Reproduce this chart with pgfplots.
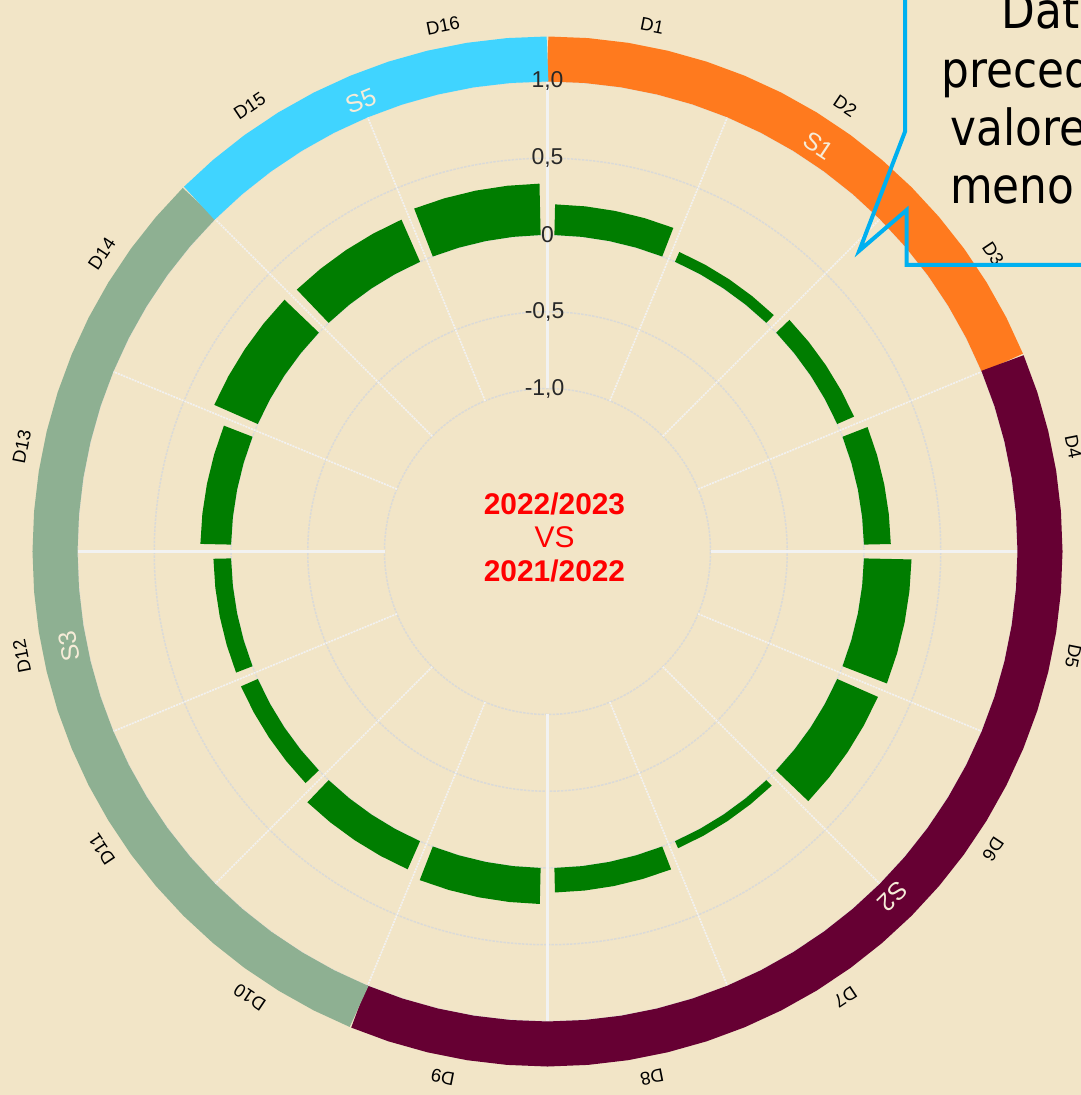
\documentclass[border=0pt]{standalone}
\usepackage{pgfplots}
\pgfplotsset{compat=1.18}
\usepgfplotslibrary{polar}
\usepackage{fontspec}
\setmainfont{Liberation Sans}
\newfontfamily\callfont[FakeStretch=0.88]{DejaVu Sans}
\definecolor{bg}{RGB}{242,229,199}
\definecolor{barg}{RGB}{0,125,0}
\definecolor{sone}{RGB}{255,122,30}
\definecolor{stwo}{RGB}{102,0,51}
\definecolor{sthree}{RGB}{142,176,146}
\definecolor{sfive}{RGB}{64,212,255}
\definecolor{callc}{RGB}{0,176,240}
\definecolor{gridc}{RGB}{218,218,216}
\definecolor{lab}{RGB}{40,40,40}
\definecolor{slab}{RGB}{246,236,216}
% bar: five angles, outer radius (= 2.062 + value)
\newcommand\polbar[6]{\addplot[draw=none,fill=barg,data cs=polar] coordinates {(#1,2.062) (#2,2.062) (#3,2.062) (#4,2.062) (#5,2.062) (#5,#6) (#4,#6) (#3,#6) (#2,#6) (#1,#6)};}
\begin{document}
\begin{tikzpicture}
\fill[bg] (0,0) rectangle (1081bp,1095bp);
\begin{scope}[shift={(547.5bp,543.5bp)}]
\foreach \r in {163bp,239.75bp,316.5bp,393.25bp,470bp}
  \draw[gridc,line width=1.5bp,dash pattern=on 2.5bp off 1.2bp] (0,0) circle[radius=\r];
\foreach \a in {22.5,45,67.5,112.5,135,157.5,202.5,225,247.5,292.5,315,337.5}
  \draw[white!90!gray,line width=1.6bp,dash pattern=on 2bp off 1bp] (\a:163bp) -- (\a:470bp);
\foreach \a in {0,90,180,270}
  \draw[white!90!gray,line width=2.2bp] (\a:163bp) -- (\a:470bp);
\end{scope}
\begin{axis}[at={(0,0)},anchor=south west,x=153.5bp,y=153.5bp,
  xmin=-3.5668,xmax=3.4756,ymin=-3.5407,ymax=3.5928,hide axis,clip=false]
% ring segments (S1: D1-D3, S2: D4-D9, S3: D10-D14, S5: D15-D16)
\addplot[sone,line width=45bp,data cs=polar] coordinates {(90,3.2085) (85.5,3.2085) (81,3.2085) (76.5,3.2085) (72,3.2085) (67.5,3.2085) (63,3.2085) (58.5,3.2085) (54,3.2085) (49.5,3.2085) (45,3.2085) (40.5,3.2085) (36,3.2085) (31.5,3.2085) (27,3.2085) (22.5,3.2085)};
\addplot[stwo,line width=45bp,data cs=polar] coordinates {(22.5,3.2085) (18,3.2085) (13.5,3.2085) (9,3.2085) (4.5,3.2085) (0,3.2085) (-4.5,3.2085) (-9,3.2085) (-13.5,3.2085) (-18,3.2085) (-22.5,3.2085) (-27,3.2085) (-31.5,3.2085) (-36,3.2085) (-40.5,3.2085) (-45,3.2085) (-49.5,3.2085) (-54,3.2085) (-58.5,3.2085) (-63,3.2085) (-67.5,3.2085) (-72,3.2085) (-76.5,3.2085) (-81,3.2085) (-85.5,3.2085) (-90,3.2085) (-94.5,3.2085) (-99,3.2085) (-103.5,3.2085) (-108,3.2085) (-112.5,3.2085)};
\addplot[sthree,line width=45bp,data cs=polar] coordinates {(-112.5,3.2085) (-117,3.2085) (-121.5,3.2085) (-126,3.2085) (-130.5,3.2085) (-135,3.2085) (-139.5,3.2085) (-144,3.2085) (-148.5,3.2085) (-153,3.2085) (-157.5,3.2085) (-162,3.2085) (-166.5,3.2085) (-171,3.2085) (-175.5,3.2085) (-180,3.2085) (-184.5,3.2085) (-189,3.2085) (-193.5,3.2085) (-198,3.2085) (-202.5,3.2085) (-207,3.2085) (-211.5,3.2085) (-216,3.2085) (-220.5,3.2085) (-225,3.2085)};
\addplot[sfive,line width=45bp,data cs=polar] coordinates {(135,3.2085) (130.5,3.2085) (126,3.2085) (121.5,3.2085) (117,3.2085) (112.5,3.2085) (108,3.2085) (103.5,3.2085) (99,3.2085) (94.5,3.2085) (90,3.2085)};
% bars: values D1..D16 = 0.20 0.07 0.12 0.175 0.31 0.29 0.05 0.16 0.235 0.20 0.12 0.115 0.20 0.31 0.30 0.335
\polbar{88.75}{83.75}{78.75}{73.75}{68.75}{2.262}
\polbar{66.25}{61.25}{56.25}{51.25}{46.25}{2.132}
\polbar{43.75}{38.75}{33.75}{28.75}{23.75}{2.182}
\polbar{21.25}{16.25}{11.25}{6.25}{1.25}{2.237}
\polbar{-1.25}{-6.25}{-11.25}{-16.25}{-21.25}{2.372}
\polbar{-23.75}{-28.75}{-33.75}{-38.75}{-43.75}{2.352}
\polbar{-46.25}{-51.25}{-56.25}{-61.25}{-66.25}{2.112}
\polbar{-68.75}{-73.75}{-78.75}{-83.75}{-88.75}{2.222}
\polbar{-91.25}{-96.25}{-101.25}{-106.25}{-111.25}{2.297}
\polbar{-113.75}{-118.75}{-123.75}{-128.75}{-133.75}{2.262}
\polbar{-136.25}{-141.25}{-146.25}{-151.25}{-156.25}{2.182}
\polbar{-158.75}{-163.75}{-168.75}{-173.75}{-178.75}{2.177}
\polbar{178.75}{173.75}{168.75}{163.75}{158.75}{2.262}
\polbar{156.25}{151.25}{146.25}{141.25}{136.25}{2.372}
\polbar{133.75}{128.75}{123.75}{118.75}{113.75}{2.362}
\polbar{111.25}{106.25}{101.25}{96.25}{91.25}{2.397}
\end{axis}
\begin{scope}[shift={(547.5bp,543.5bp)}]
% radial tick labels
\begin{scope}[every node/.style={lab,font=\fontsize{23}{23}\selectfont,inner sep=0pt}]
\node at (0,471bp) {1,0};
\node at (0,394bp) {0,5};
\node at (0,317bp) {0};
\node at (-3bp,240bp) {-0,5};
\node at (-3bp,163bp) {-1,0};
\end{scope}
% category labels
\begin{scope}[every node/.style={black,font=\fontsize{18.5}{18.5}\selectfont,inner sep=0pt}]
\node[rotate=-11.25] at (78.75:536bp) {D1};
\node[rotate=-33.75] at (56.25:536bp) {D2};
\node[rotate=-56.25] at (33.75:536bp) {D3};
\node[rotate=-78.75] at (11.25:536bp) {D4};
\node[rotate=-101.25] at (-11.25:536bp) {D5};
\node[rotate=-123.75] at (-33.75:536bp) {D6};
\node[rotate=-146.25] at (-56.25:536bp) {D7};
\node[rotate=-168.75] at (-78.75:536bp) {D8};
\node[rotate=-191.25] at (-101.25:536bp) {D9};
\node[rotate=-213.75] at (-123.75:536bp) {D10};
\node[rotate=-236.25] at (-146.25:536bp) {D11};
\node[rotate=-258.75] at (-168.75:536bp) {D12};
\node[rotate=78.75] at (168.75:536bp) {D13};
\node[rotate=56.25] at (146.25:536bp) {D14};
\node[rotate=33.75] at (123.75:536bp) {D15};
\node[rotate=11.25] at (101.25:536bp) {D16};
\end{scope}
% group labels
\begin{scope}[every node/.style={slab,font=\fontsize{25}{25}\selectfont,inner sep=0pt}]
\node[rotate=-33.75] at (56.25:488bp) {S1};
\node[rotate=-135] at (-45:488bp) {S2};
\node[rotate=101.25] at (191.25:488bp) {S3};
\node[rotate=22.5] at (112.5:488bp) {S5};
\end{scope}
% centre text
\node[red,anchor=base,font=\fontsize{30}{30}\selectfont\bfseries,inner sep=0pt] at (7bp,37bp) {2022/2023};
\node[red,anchor=base,font=\fontsize{30}{30}\selectfont,inner sep=0pt] at (7bp,3.5bp) {VS};
\node[red,anchor=base,font=\fontsize{30}{30}\selectfont\bfseries,inner sep=0pt] at (7bp,-30bp) {2021/2022};
\end{scope}
% callout
\draw[callc,line width=4bp,line join=miter] (905bp,1110bp) -- (905bp,963.3bp) -- (859.3bp,844.3bp) -- (906.7bp,885bp) -- (906.7bp,830bp) -- (1100bp,830bp);
\begin{scope}[every node/.style={black,anchor=base west,inner sep=0pt,font=\callfont\fontsize{50}{50}\selectfont}]
\node at (1001.7bp,1066bp) {Dati};
\node at (941.7bp,1007.5bp) {precedente};
\node at (950bp,949bp) {valore};
\node at (950bp,891bp) {meno};
\end{scope}
\pgfresetboundingbox
\useasboundingbox (0,0) rectangle (1081bp,1095bp);
\end{tikzpicture}
\end{document}
